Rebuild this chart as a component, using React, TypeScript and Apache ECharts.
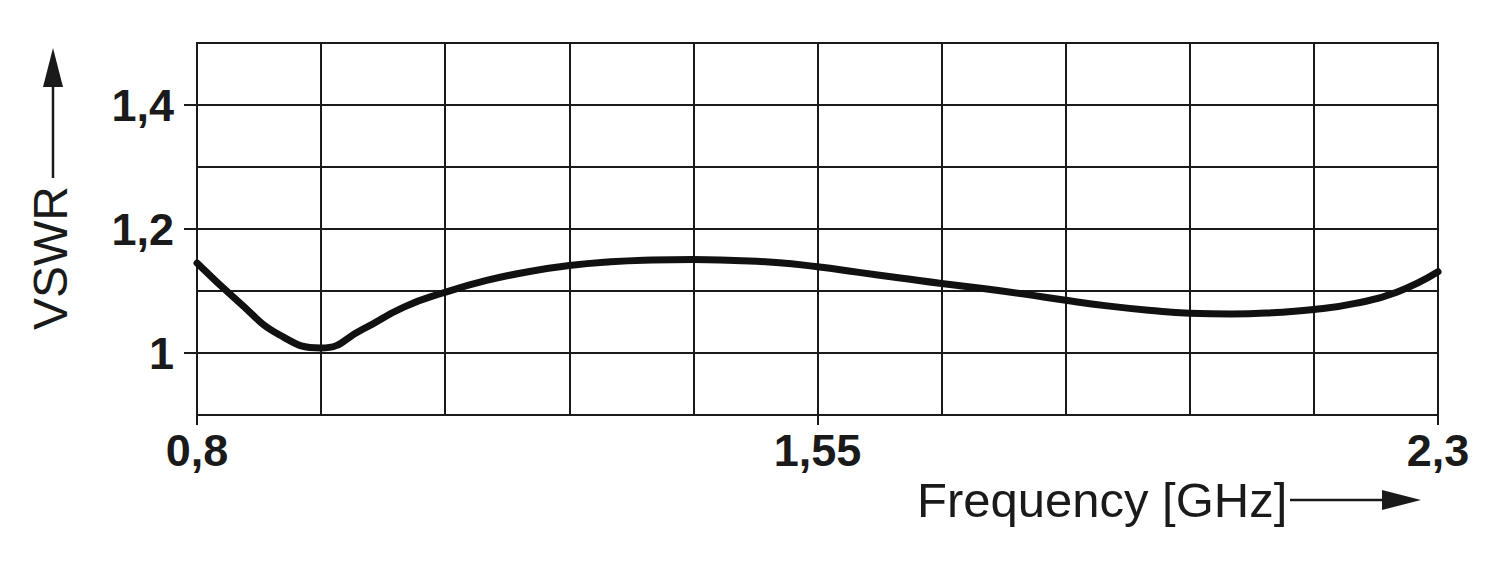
import React, { useEffect, useRef } from "react";
import * as echarts from "echarts";

// Frequency (GHz) and VSWR
const freqGHz = [0.80, 0.85, 0.90, 0.95, 1.00, 1.05, 1.10, 1.15, 1.20, 1.25, 1.30, 1.35, 1.40, 1.45, 1.50, 1.55, 1.60, 1.65, 1.70, 1.75, 1.80, 1.85, 1.90, 1.95, 2.00, 2.05, 2.10, 2.15, 2.20, 2.25, 2.30];
const vswr = [1.145, 1.083, 1.029, 1.008, 1.038, 1.074, 1.098, 1.117, 1.131, 1.141, 1.147, 1.150, 1.151, 1.149, 1.146, 1.139, 1.130, 1.121, 1.112, 1.104, 1.095, 1.085, 1.076, 1.069, 1.064, 1.063, 1.065, 1.070, 1.080, 1.098, 1.131];

const xMin = 0.8;
const xStep = 0.15; // grid step in GHz, 10 divisions
const xDivisions = 10;
const xLabelValues = [0.8, 1.55, 2.3];
const yScale = 10; // VSWR * 10 on the axis so that the interval is exact
const yMin = 0.9;
const yMax = 1.5;
const yLabelValues = [1.0, 1.2, 1.4];

const fmt = (v: number) => String(Math.round(v * 100) / 100).replace(".", ",");

export default function App() {
  const ref = useRef<HTMLDivElement>(null);
  useEffect(() => {
    const chart = echarts.init(ref.current!, null, { renderer: "svg" });
    const data = freqGHz.map((f, i) => [(f - xMin) / xStep, vswr[i] * yScale]);
    const ink = "#1a1a1a";
    const font = "'Liberation Sans', Arial, Helvetica, sans-serif";
    const labelStyle = {
      color: ink,
      fontSize: 45,
      fontWeight: "bold",
      fontFamily: font,
    };
    const xLab = xLabelValues.map((f) => (f - xMin) / xStep);
    const yLab = yLabelValues.map((v) => v * yScale);
    chart.setOption({
      animation: false,
      backgroundColor: "#ffffff",
      grid: {
        left: 197,
        right: 62,
        top: 43,
        bottom: 171,
        containLabel: false,
        outerBoundsMode: "none",
        show: true,
        borderColor: ink,
        borderWidth: 2,
      },
      xAxis: [
        {
          type: "value",
          min: 0,
          max: xDivisions,
          interval: 1,
          axisLine: { show: true, lineStyle: { color: ink, width: 2 } },
          axisTick: { show: false },
          axisLabel: { show: false },
          splitLine: { show: true, lineStyle: { color: ink, width: 2 } },
        },
        {
          type: "value",
          position: "bottom",
          min: 0,
          max: xDivisions,
          interval: 1,
          axisLine: { show: false },
          splitLine: { show: false },
          axisTick: {
            show: true,
            length: 10,
            inside: false,
            lineStyle: { color: ink, width: 2 },
            customValues: xLab,
          },
          axisLabel: {
            customValues: xLab,
            formatter: (v: number) => fmt(xMin + v * xStep),
            margin: 13,
            ...labelStyle,
          },
        },
      ],
      yAxis: [
        {
          type: "value",
          min: yMin * yScale,
          max: yMax * yScale,
          interval: 1,
          axisLine: { show: true, lineStyle: { color: ink, width: 2 } },
          axisTick: { show: false },
          axisLabel: { show: false },
          splitLine: { show: true, lineStyle: { color: ink, width: 2 } },
        },
        {
          type: "value",
          position: "left",
          min: yMin * yScale,
          max: yMax * yScale,
          interval: 1,
          axisLine: { show: false },
          splitLine: { show: false },
          axisTick: {
            show: true,
            length: 13,
            inside: false,
            lineStyle: { color: ink, width: 2 },
            customValues: yLab,
          },
          axisLabel: {
            customValues: yLab,
            formatter: (v: number) => fmt(v / yScale),
            margin: 23,
            ...labelStyle,
          },
        },
      ],
      series: [
        {
          type: "line",
          data,
          xAxisIndex: 0,
          yAxisIndex: 0,
          smooth: 0.5,
          showSymbol: false,
          symbol: "none",
          lineStyle: { color: "#111111", width: 7, cap: "round", join: "round" },
          z: 5,
        },
      ],
      graphic: [
        {
          type: "text",
          x: 50,
          y: 258,
          rotation: Math.PI / 2,
          style: {
            text: "VSWR",
            fill: ink,
            fontSize: 48,
            fontFamily: font,
            align: "center",
            verticalAlign: "middle",
          },
        },
        {
          type: "line",
          shape: { x1: 53, y1: 178, x2: 53, y2: 80 },
          style: { stroke: ink, lineWidth: 2.5 },
        },
        {
          type: "polygon",
          shape: { points: [[53, 48], [43, 87], [63, 87]] },
          style: { fill: ink },
        },
        {
          type: "text",
          x: 917,
          y: 500,
          style: {
            text: "Frequency [GHz]",
            fill: ink,
            fontSize: 49,
            fontFamily: font,
            align: "left",
            verticalAlign: "middle",
          },
        },
        {
          type: "line",
          shape: { x1: 1290, y1: 500, x2: 1390, y2: 500 },
          style: { stroke: ink, lineWidth: 2.5 },
        },
        {
          type: "polygon",
          shape: { points: [[1421, 500], [1382, 490], [1382, 510]] },
          style: { fill: ink },
        },
      ],
    });
    return () => chart.dispose();
  }, []);
  return (
    <div
      ref={ref}
      style={{ position: "fixed", left: 0, top: 0, width: 1500, height: 586, background: "#fff" }}
    />
  );
}
